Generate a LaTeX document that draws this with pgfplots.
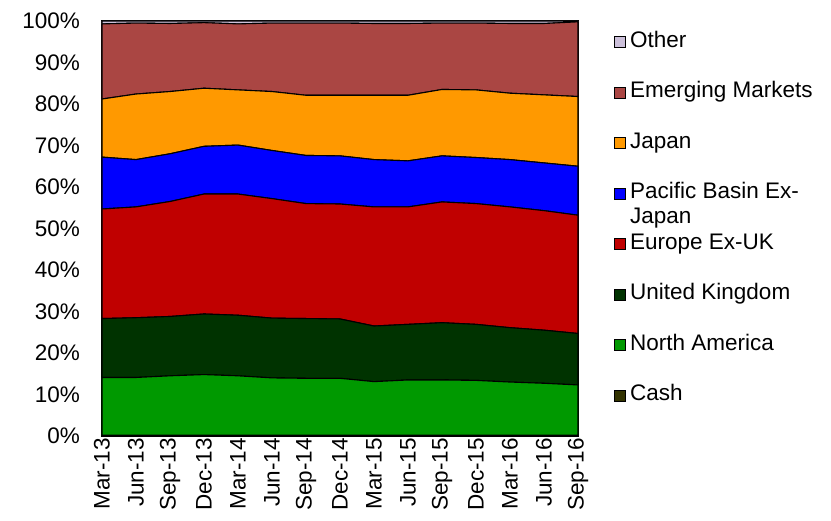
\documentclass[border=0pt]{standalone}
\usepackage{pgfplots}
\pgfplotsset{compat=1.18}
\usepackage{pgfplotstable}
\usepackage{fontspec}
\setmainfont{Liberation Sans}

\definecolor{cOther}{HTML}{CCC0DA}
\definecolor{cEM}{HTML}{AA4643}
\definecolor{cJapan}{HTML}{FF9900}
\definecolor{cPac}{HTML}{0000FF}
\definecolor{cEur}{HTML}{C00000}
\definecolor{cUK}{HTML}{003300}
\definecolor{cNA}{HTML}{009900}
\definecolor{cCash}{HTML}{333300}

% quarterly weights, 0 = Mar-13 ... 14 = Sep-16
\pgfplotstableread{
x cash na   uk   eur  pac  jap  em   oth
0  0.2 13.9 14.2 26.4 12.5 14.0 18.1 0.7
1  0.2 13.9 14.4 26.7 11.4 15.8 17.1 0.5
2  0.2 14.3 14.3 27.7 11.5 15.0 16.4 0.6
3  0.2 14.6 14.6 28.9 11.5 14.0 15.8 0.4
4  0.2 14.3 14.6 29.2 11.8 13.3 15.9 0.7
5  0.2 13.8 14.4 28.8 11.6 14.2 16.5 0.5
6  0.2 13.7 14.4 27.7 11.6 14.5 17.4 0.5
7  0.2 13.7 14.3 27.7 11.6 14.6 17.4 0.5
8  0.2 12.9 13.4 28.7 11.4 15.5 17.3 0.6
9  0.2 13.3 13.4 28.3 11.1 15.8 17.3 0.6
10 0.2 13.3 13.8 29.1 11.1 16.0 16.0 0.5
11 0.2 13.2 13.5 29.1 11.1 16.3 16.1 0.5
12 0.2 12.8 13.1 29.1 11.4 16.0 16.8 0.6
13 0.2 12.5 12.8 28.8 11.5 16.4 17.2 0.6
14 0.2 12.1 12.4 28.5 11.8 16.8 18.0 0.2
}\weights

\begin{document}
\begin{tikzpicture}
\useasboundingbox (0,0) rectangle (831pt,521pt);
\begin{axis}[
    at={(102pt,85pt)}, anchor=south west,
    scale only axis,
    width=476pt, height=415pt,
    font=\fontsize{22.5}{25}\selectfont,
    stack plots=y,
    xmin=0, xmax=14, ymin=0, ymax=100,
    xtick={0,...,14},
    xticklabels={Mar-13,Jun-13,Sep-13,Dec-13,Mar-14,Jun-14,Sep-14,Dec-14,Mar-15,Jun-15,Sep-15,Dec-15,Mar-16,Jun-16,Sep-16},
    x tick label style={rotate=90, anchor=east, inner sep=2pt},
    ytick={0,10,...,100},
    yticklabel={\pgfmathprintnumber{\tick}\%},
    y tick label style={inner sep=0pt, xshift=-22pt, anchor=east},
    /pgf/number format/assume math mode=true,
    tick style={draw=none},
    axis line style={line width=1.6pt},
    every axis plot/.append style={draw=black, line width=1.1pt},
    reverse legend,
    legend cell align=left,
    legend style={at={(1.075,0.978)}, anchor=north west, draw=none, fill=none,
        row sep=26.5pt, inner sep=0pt,
        nodes={text height=15pt, text depth=5pt, inner xsep=4.5pt, inner ysep=2pt}},
    legend image code/.code={\draw[#1, line width=0.8pt, draw=black] (0pt,-5.5pt) rectangle (11pt,5.5pt);},
]
\addplot[fill=cCash] table[y=cash] {\weights} \closedcycle;
\addlegendentry{Cash}
\addplot[fill=cNA] table[y=na] {\weights} \closedcycle;
\addlegendentry{North America}
\addplot[fill=cUK] table[y=uk] {\weights} \closedcycle;
\addlegendentry{United Kingdom}
\addplot[fill=cEur] table[y=eur] {\weights} \closedcycle;
\addlegendentry{Europe Ex-UK}
\addplot[fill=cPac] table[y=pac] {\weights} \closedcycle;
\addlegendentry{\smash{\begin{tabular}[t]{@{}l@{}}Pacific Basin Ex-\\Japan\end{tabular}}}
\addplot[fill=cJapan] table[y=jap] {\weights} \closedcycle;
\addlegendentry{Japan}
\addplot[fill=cEM] table[y=em] {\weights} \closedcycle;
\addlegendentry{Emerging Markets}
\addplot[fill=cOther] table[y=oth] {\weights} \closedcycle;
\addlegendentry{Other}
\end{axis}
\end{tikzpicture}
\end{document}
